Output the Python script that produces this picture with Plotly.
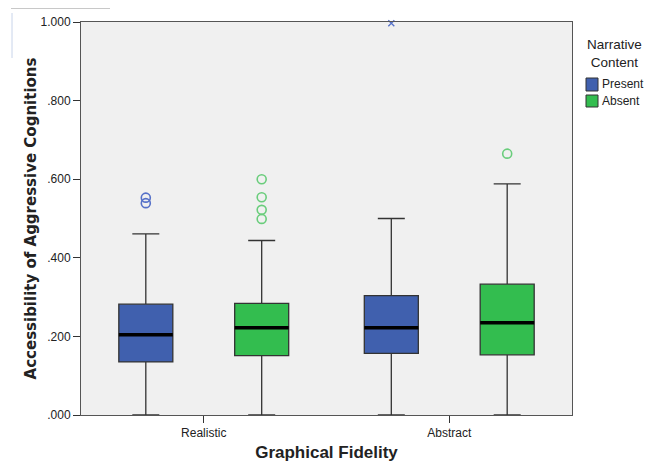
import plotly.graph_objects as go

categories = ["Realistic", "Abstract"]
series = ["Present", "Absent"]
colors = {"Present": "#4060ae", "Absent": "#33bd4f"}
outlier_colors = {"Present": "#5570c8", "Absent": "#6acd7c"}

lower = {"Present": [0.0, 0.0], "Absent": [0.0, 0.0]}
q1 = {"Present": [0.135, 0.157], "Absent": [0.151, 0.153]}
median = {"Present": [0.204, 0.222], "Absent": [0.222, 0.235]}
q3 = {"Present": [0.282, 0.304], "Absent": [0.284, 0.333]}
upper = {"Present": [0.461, 0.500], "Absent": [0.444, 0.588]}
outliers = {"Present": [[0.553, 0.539], []], "Absent": [[0.600, 0.554, 0.522, 0.499], [0.665]]}
extremes = {"Present": [[], [0.997]], "Absent": [[], []]}

y_ticks = [0.0, 0.2, 0.4, 0.6, 0.8, 1.0]
y_ticktext = [".000", ".200", ".400", ".600", ".800", "1.000"]

legend_title = "Narrative<br>Content"

offset = {"Present": -0.236, "Absent": 0.236}
box_w = 0.22

fig = go.Figure()
for s in series:
    xs = [i + offset[s] for i in range(len(categories))]
    fig.add_trace(go.Box(
        x=xs, q1=q1[s], median=median[s], q3=q3[s],
        lowerfence=lower[s], upperfence=upper[s],
        width=box_w, whiskerwidth=0.5,
        fillcolor=colors[s], line=dict(color="#333333", width=1.3),
        boxpoints=False, showlegend=False, hoverinfo="skip"))
    for i, x in enumerate(xs):
        fig.add_trace(go.Scatter(
            x=[x - box_w / 2, x + box_w / 2], y=[median[s][i]] * 2,
            mode="lines", line=dict(color="black", width=3.5),
            showlegend=False, hoverinfo="skip"))
    ox, oy, ex, ey = [], [], [], []
    for i, x in enumerate(xs):
        for v in outliers[s][i]:
            ox.append(x); oy.append(v)
        for v in extremes[s][i]:
            ex.append(x); ey.append(v)
    if ox:
        fig.add_trace(go.Scatter(
            x=ox, y=oy, mode="markers",
            marker=dict(symbol="circle-open", size=9, color=outlier_colors[s], line=dict(width=1.6)),
            showlegend=False, hoverinfo="skip"))
    if ex:
        fig.add_trace(go.Scatter(
            x=ex, y=ey, mode="markers",
            marker=dict(symbol="x-thin-open", size=6, color=outlier_colors[s], line=dict(width=1.3)),
            showlegend=False, hoverinfo="skip", cliponaxis=False))

# page body adds an 8px offset; figure is sized to fit the window
W, H = 648, 455
L, T, R, B = 73, 14, 84, 48
pw, ph = W - L - R, H - T - B


def px(x):  # window pixel x -> paper
    return (x - 8 - L) / pw


def py(y):  # window pixel y -> paper
    return (H - B - (y - 8)) / ph


shapes = [
    dict(type="line", xref="paper", yref="paper", x0=px(11), x1=px(110), y0=py(8.5), y1=py(8.5),
         line=dict(color="#c8c8c8", width=1)),
    dict(type="line", xref="paper", yref="paper", x0=px(12), x1=px(12), y0=py(13), y1=py(58),
         line=dict(color="#c8d4ea", width=1)),
]
annotations = [
    dict(text=legend_title, xref="paper", yref="paper", x=px(614), y=py(53.5),
         xanchor="center", yanchor="middle", showarrow=False, align="center",
         font=dict(size=13.5, color="#222222")),
]
leg_y = {"Present": (78, 91), "Absent": (95, 107)}
for s in series:
    yt, yb = leg_y[s]
    shapes.append(dict(type="rect", xref="paper", yref="paper", x0=px(586), x1=px(598),
                       y0=py(yb), y1=py(yt),
                       fillcolor=colors[s], line=dict(color="#333333", width=1)))
    annotations.append(dict(text=s, xref="paper", yref="paper", x=px(600), y=py((yt + yb) / 2),
                            xanchor="left", yanchor="middle", showarrow=False,
                            font=dict(size=12, color="#222222")))

fig.update_layout(
    width=W, height=H,
    margin=dict(l=L, r=R, t=T, b=B),
    paper_bgcolor="white", plot_bgcolor="#f0f0f0",
    font=dict(family="Liberation Sans, Arial, sans-serif", size=12, color="#222222"),
    showlegend=False,
    shapes=shapes, annotations=annotations,
)
fig.update_xaxes(
    range=[-0.5, 1.5], tickvals=[0, 1], ticktext=categories,
    ticks="outside", ticklen=7, tickcolor="#333333",
    showline=True, linecolor="#555555", linewidth=1, mirror=True,
    showgrid=False, zeroline=False, automargin=False,
    title=dict(text="<b>Graphical Fidelity</b>", font=dict(size=17, color="#222222"), standoff=6))
fig.update_yaxes(
    range=[0, 1], tickvals=y_ticks, ticktext=y_ticktext,
    ticks="outside", ticklen=7, tickcolor="#333333",
    showline=True, linecolor="#555555", linewidth=1, mirror=True,
    showgrid=False, zeroline=False, automargin=False,
    title=dict(text="<b>Accessibility of Aggressive Cognitions</b>",
               font=dict(family="DejaVu Sans", size=15, color="#222222"), standoff=0))

fig.write_html("out.html")
